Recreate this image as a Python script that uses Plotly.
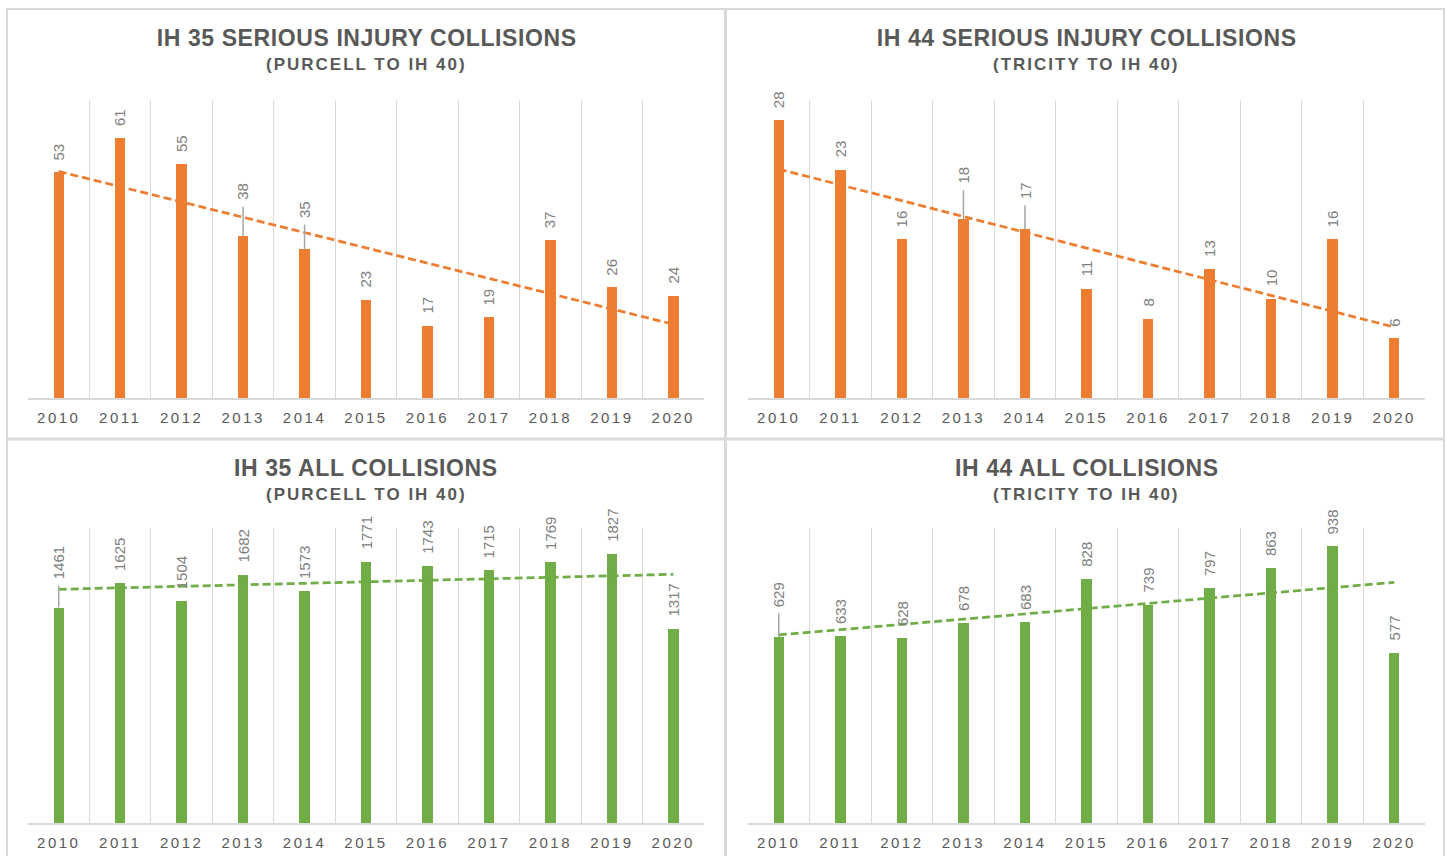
import numpy as np
import plotly.graph_objects as go

years = ['2010', '2011', '2012', '2013', '2014', '2015', '2016', '2017', '2018', '2019', '2020']
ih35_serious = [53, 61, 55, 38, 35, 23, 17, 19, 37, 26, 24]
ih44_serious = [28, 23, 16, 18, 17, 11, 8, 13, 10, 16, 6]
ih35_all = [1461, 1625, 1504, 1682, 1573, 1771, 1743, 1715, 1769, 1827, 1317]
ih44_all = [629, 633, 628, 678, 683, 828, 739, 797, 863, 938, 577]

titles = ['IH 35 SERIOUS INJURY COLLISIONS', 'IH 44 SERIOUS INJURY COLLISIONS',
          'IH 35 ALL COLLISIONS', 'IH 44 ALL COLLISIONS']
subtitles = ['(PURCELL TO IH 40)', '(TRICITY TO IH 40)',
             '(PURCELL TO IH 40)', '(TRICITY TO IH 40)']

W, H = 1448, 856
ORANGE = '#ED7D31'
GREEN = '#70AD47'
GRID = '#d9d9d9'
TXT = '#595959'
LBL = '#808080'
SANS = 'Liberation Sans, Arial'


def fx(p):
    return p / W


def fy(p):
    return 1 - p / H


panels = [
    dict(vals=ih35_serious, color=ORANGE, yr=70, x0=28, x1=704, ytop=100, ybot=398,
         tcy=38.5, scy=64, leaders={3: -44.5, 4: -39.5}),
    dict(vals=ih44_serious, color=ORANGE, yr=30, x0=748, x1=1425, ytop=100, ybot=398,
         tcy=38.5, scy=64, leaders={3: -44, 4: -39}),
    dict(vals=ih35_all, color=GREEN, yr=2000, x0=28, x1=704, ytop=528, ybot=823,
         tcy=467.5, scy=494, leaders={0: -45}),
    dict(vals=ih44_all, color=GREEN, yr=1000, x0=748, x1=1425, ytop=528, ybot=823,
         tcy=467.5, scy=494, leaders={0: -43}),
]

fig = go.Figure()
annotations = []
layout_axes = {}

for i, p in enumerate(panels):
    n = '' if i == 0 else str(i + 1)
    xa, ya = 'x' + n, 'y' + n
    vals = p['vals']
    fig.add_trace(go.Bar(x=years, y=vals, xaxis=xa, yaxis=ya, width=0.17,
                         marker=dict(color=p['color'], line=dict(width=0)),
                         hoverinfo='skip', showlegend=False))
    idx = np.arange(len(vals))
    coef = np.polyfit(idx, np.array(vals, dtype=float), 1)
    trend = np.polyval(coef, idx)
    fig.add_trace(go.Scatter(x=years, y=trend, xaxis=xa, yaxis=ya, mode='lines',
                             line=dict(color=p['color'], width=2.75, dash='8px,4px'),
                             hoverinfo='skip', showlegend=False))
    layout_axes['xaxis' + n] = dict(
        domain=[fx(p['x0']), fx(p['x1'])], anchor=ya, type='category',
        tickson='boundaries', showgrid=True, gridcolor=GRID, gridwidth=1,
        showline=True, linecolor=GRID, linewidth=2, ticks='', zeroline=False,
        tickfont=dict(family=SANS, size=15, color=TXT),
        ticklabelstandoff=5, range=[-0.5, 10.5], fixedrange=True)
    layout_axes['yaxis' + n] = dict(
        domain=[fy(p['ybot']), fy(p['ytop'])], anchor=xa, range=[0, p['yr']],
        showgrid=False, showticklabels=False, zeroline=False, showline=False,
        ticks='', fixedrange=True)
    for k, v in enumerate(vals):
        if k in p['leaders']:
            annotations.append(dict(
                x=k, y=v, xref=xa, yref=ya, text=str(v), textangle=-90,
                showarrow=True, arrowhead=0, arrowwidth=1.5, arrowcolor='#a6a6a6',
                ax=0, ay=p['leaders'][k], startstandoff=5,
                font=dict(family=SANS, size=15, color=LBL)))
        else:
            annotations.append(dict(
                x=k, y=v, xref=xa, yref=ya, text=str(v), textangle=-90,
                showarrow=False, yanchor='bottom', yshift=10,
                font=dict(family=SANS, size=15, color=LBL)))
    cx = (p['x0'] + p['x1']) / 2
    annotations.append(dict(x=fx(cx), y=fy(p['tcy']), xref='paper', yref='paper',
                            text='<b>' + titles[i] + '</b>', showarrow=False,
                            xanchor='center', yanchor='middle',
                            font=dict(family=SANS, size=23, color=TXT)))
    annotations.append(dict(x=fx(cx), y=fy(p['scy']), xref='paper', yref='paper',
                            text='<b>' + subtitles[i] + '</b>', showarrow=False,
                            xanchor='center', yanchor='middle',
                            font=dict(family=SANS, size=17, color=TXT)))

shapes = []
BORDER = '#d9d9d9'
shapes.append(dict(type='line', xref='paper', yref='paper', x0=fx(6), x1=fx(1445), y0=fy(9), y1=fy(9),
                   line=dict(color=BORDER, width=2)))
shapes.append(dict(type='line', xref='paper', yref='paper', x0=fx(7), x1=fx(7), y0=fy(9), y1=fy(856),
                   line=dict(color=BORDER, width=2)))
shapes.append(dict(type='line', xref='paper', yref='paper', x0=fx(725.5), x1=fx(725.5), y0=fy(9), y1=fy(856),
                   line=dict(color=BORDER, width=3)))
shapes.append(dict(type='line', xref='paper', yref='paper', x0=fx(1444), x1=fx(1444), y0=fy(9), y1=fy(856),
                   line=dict(color=BORDER, width=2)))
shapes.append(dict(type='line', xref='paper', yref='paper', x0=fx(6), x1=fx(1445), y0=fy(439), y1=fy(439),
                   line=dict(color=BORDER, width=3)))

fig.update_layout(width=W, height=H, margin=dict(l=0, r=0, t=0, b=0),
                  paper_bgcolor='white', plot_bgcolor='white', bargap=0,
                  annotations=annotations, shapes=shapes, showlegend=False,
                  **layout_axes)

post = """
(function(){
  var st = document.createElement('style');
  st.textContent = 'html,body{margin:0;padding:0;overflow:hidden;}';
  document.head.appendChild(st);
  function spacing(){
    document.querySelectorAll('g.xaxislayer-above text').forEach(function(t){ t.style.letterSpacing = '2.5px'; });
    document.querySelectorAll('text.annotation-text').forEach(function(t){
      var fs = t.style.fontSize;
      if(fs === '23px'){ t.style.letterSpacing = '0.6px'; }
      else if(fs === '17px'){ t.style.letterSpacing = '2px'; }
    });
  }
  spacing();
  setTimeout(spacing, 50);
  setTimeout(spacing, 300);
  var gd = document.getElementById('{plot_id}');
  if(gd && gd.on){ gd.on('plotly_afterplot', spacing); }
})();
"""
fig.write_html('out.html', config={'displayModeBar': False}, post_script=post)
